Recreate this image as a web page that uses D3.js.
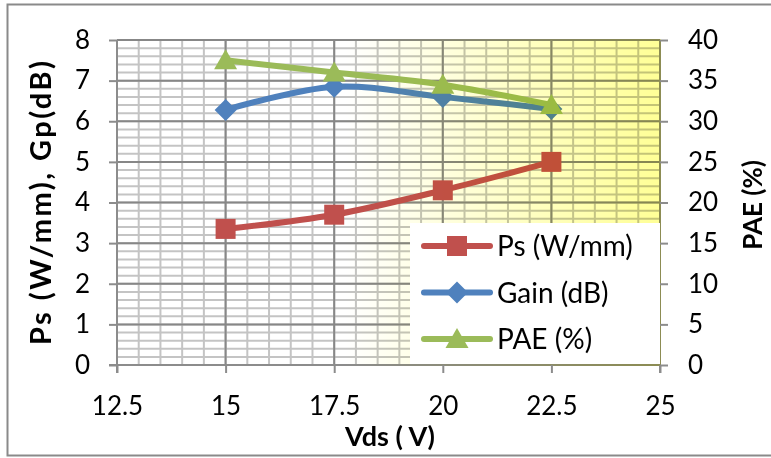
<!DOCTYPE html>
<html>
<head>
<meta charset="utf-8">
<script src="https://cdn.jsdelivr.net/npm/d3@7"></script>
<style>
  html, body { margin: 0; padding: 0; background: #fff; }
  svg { display: block; font-family: Lato, "Noto Sans", sans-serif; }
</style>
</head>
<body>
<svg id="chart" width="771" height="458"></svg>
<script>
// Drain voltage sweep
const vds = [15, 17.5, 20, 22.5];
// Saturated output power density (W/mm), left axis
const ps = [3.35, 3.7, 4.3, 5.0];
// Power gain (dB), left axis
const gain = [6.28, 6.85, 6.6, 6.3];
// Power-added efficiency (%), right axis
const pae = [37.5, 36.0, 34.5, 32.0];

const xTicks = [12.5, 15, 17.5, 20, 22.5, 25];
const yLeftTicks = [0, 1, 2, 3, 4, 5, 6, 7, 8];
const yRightTicks = [0, 5, 10, 15, 20, 25, 30, 35, 40];

const svg = d3.select("#chart");
const L = 117, R = 660, T = 40, B = 365;

const x = d3.scaleLinear().domain([12.5, 25]).range([L, R]);
const yL = d3.scaleLinear().domain([0, 8]).range([B, T]);
const yR = d3.scaleLinear().domain([0, 40]).range([B, T]);

// outer frame
svg.append("rect")
  .attr("x", 7.5).attr("y", 4.5).attr("width", 775).attr("height", 451)
  .attr("fill", "#fff").attr("stroke", "#8a8a8a").attr("stroke-width", 2);

const defs = svg.append("defs");
const grad = defs.append("linearGradient").attr("id", "plotTint")
  .attr("x1", 0).attr("x2", 1).attr("y1", 0).attr("y2", 0);
grad.append("stop").attr("offset", 0).attr("stop-color", "#ffffff");
grad.append("stop").attr("offset", 0.42).attr("stop-color", "#ffffff");
grad.append("stop").attr("offset", 1).attr("stop-color", "#ffff96");

const plot = svg.append("g");

// minor grid
const minorX = d3.range(12.5, 25.001, 0.5);
const minorY = d3.range(0, 8.001, 0.2);
plot.append("g").selectAll("line").data(minorY).join("line")
  .attr("x1", L).attr("x2", R).attr("y1", d => yL(d)).attr("y2", d => yL(d))
  .attr("stroke", "#c4c4c4").attr("stroke-width", 2);
plot.append("g").selectAll("line").data(minorX).join("line")
  .attr("y1", T).attr("y2", B).attr("x1", d => x(d)).attr("x2", d => x(d))
  .attr("stroke", "#c4c4c4").attr("stroke-width", 2);
// major grid
plot.append("g").selectAll("line").data(yLeftTicks).join("line")
  .attr("x1", L).attr("x2", R).attr("y1", d => yL(d)).attr("y2", d => yL(d))
  .attr("stroke", "#878787").attr("stroke-width", 2);
plot.append("g").selectAll("line").data(xTicks).join("line")
  .attr("y1", T).attr("y2", B).attr("x1", d => x(d)).attr("x2", d => x(d))
  .attr("stroke", "#878787").attr("stroke-width", 2);

// series
const series = [
  { name: "Ps (W/mm)", values: ps, scale: yL, color: "#c0504d", marker: "square" },
  { name: "Gain (dB)", values: gain, scale: yL, color: "#4f81bd", marker: "diamond" },
  { name: "PAE (%)", values: pae, scale: yR, color: "#9bbb59", marker: "triangle" }
];

function markerPath(type) {
  if (type === "square") return "M-10,-10H10V10H-10Z";
  if (type === "diamond") return "M0,-11L11,0L0,11L-11,0Z";
  return "M0,-11L11.5,9L-11.5,9Z";
}

series.forEach(s => {
  const pts = vds.map((v, i) => [x(v), s.scale(s.values[i])]);
  plot.append("path")
    .attr("d", d3.line().curve(d3.curveCardinal.tension(0))(pts))
    .attr("fill", "none").attr("stroke", s.color).attr("stroke-width", 6)
    .attr("stroke-linecap", "round");
  plot.append("g").selectAll("path").data(pts).join("path")
    .attr("transform", d => `translate(${d[0]},${d[1]})`)
    .attr("d", markerPath(s.marker)).attr("fill", s.color);
});

// axis lines
const axisColor = "#8c8c8c";
svg.append("line").attr("x1", L).attr("x2", L).attr("y1", T).attr("y2", B + 8)
  .attr("stroke", axisColor).attr("stroke-width", 2);
svg.append("line").attr("x1", R).attr("x2", R).attr("y1", T).attr("y2", B + 8)
  .attr("stroke", axisColor).attr("stroke-width", 2);
svg.append("line").attr("x1", L - 8).attr("x2", R).attr("y1", B).attr("y2", B)
  .attr("stroke", axisColor).attr("stroke-width", 2);

// tint over the plot area
svg.append("rect").attr("x", L).attr("y", T - 1).attr("width", R - L + 1).attr("height", B - T + 2)
  .attr("fill", "url(#plotTint)").style("mix-blend-mode", "multiply");

// axes
const fmt = d => String(d);
const xAxis = svg.append("g").attr("transform", `translate(0,${B})`)
  .call(d3.axisBottom(x).tickValues(xTicks).tickFormat(fmt).tickSize(8).tickPadding(24));
const yAxisL = svg.append("g").attr("transform", `translate(${L},0)`)
  .call(d3.axisLeft(yL).tickValues(yLeftTicks).tickFormat(fmt).tickSize(8).tickPadding(19));
const yAxisR = svg.append("g").attr("transform", `translate(${R},0)`)
  .call(d3.axisRight(yR).tickValues(yRightTicks).tickFormat(fmt).tickSize(8).tickPadding(20));
[xAxis, yAxisL, yAxisR].forEach(a => {
  a.select(".domain").remove();
  a.selectAll(".tick line").attr("stroke", axisColor).attr("stroke-width", 2);
  a.selectAll(".tick text").attr("fill", "#000").style("font-size", "26px")
    .style("font-family", "Lato, sans-serif");
});

// legend
const lg = svg.append("g");
lg.append("rect").attr("x", 410).attr("y", 223).attr("width", 250).attr("height", 141)
  .attr("fill", "#fff");
series.forEach((s, i) => {
  const cy = 246 + i * 46.5;
  lg.append("line").attr("x1", 424).attr("x2", 490).attr("y1", cy).attr("y2", cy)
    .attr("stroke", s.color).attr("stroke-width", 6).attr("stroke-linecap", "round");
  lg.append("path").attr("transform", `translate(457,${cy})`)
    .attr("d", markerPath(s.marker)).attr("fill", s.color);
  lg.append("text").attr("x", 497).attr("y", cy).attr("dy", "0.36em")
    .style("font-size", "28px").text(s.name);
});

// axis titles
svg.append("text").attr("transform", "translate(390,446)")
  .attr("text-anchor", "middle").style("font-size", "27px").style("font-weight", "bold")
  .text("Vds ( V)");
svg.append("text").attr("transform", "translate(51,203) rotate(-90)")
  .attr("text-anchor", "middle").style("font-size", "29px").style("font-weight", "bold")
  .attr("textLength", 284).attr("lengthAdjust", "spacing")
  .text("Ps (W/mm), Gp(dB)");
svg.append("text").attr("transform", "translate(762,205) rotate(-90)")
  .attr("text-anchor", "middle").style("font-size", "26px").style("font-weight", "bold")
  .text("PAE (%)");
</script>
</body>
</html>
